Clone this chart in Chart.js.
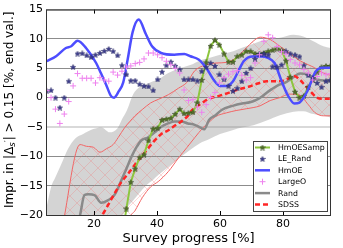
<!DOCTYPE html>
<html><head><meta charset="utf-8">
<script src="https://cdn.jsdelivr.net/npm/chart.js@4/dist/chart.umd.min.js"></script>
<style>html,body{margin:0;padding:0;background:#fff;overflow:hidden}#wrap{width:343px;height:248px}</style>
</head><body><div id="wrap"><canvas id="c" width="343" height="248"></canvas></div>
<script>
// ---------------- data ----------------
const progress = [5.0,6.4,7.8,9.2,10.6,12.0,13.4,14.8,16.3,17.7,19.1,20.5,21.9,23.3,24.7,26.1,27.5,28.9,30.3,31.7,33.1,34.5,35.9,37.3,38.8,40.2,41.6,43.0,44.4,45.8,47.2,48.6,50.0,51.4,52.8,54.2,55.6,57.0,58.4,59.8,61.3,62.7,64.1,65.5,66.9,68.3,69.7,71.1,72.5,73.9,75.3,76.7,78.1,79.5,80.9,82.3,83.8,85.2,86.6,88.0,89.4,90.8,92.2,93.6,95.0];
const leRand = [1.1,1.25,0.0,-1.7,0.0,2.8,5.2,7.5,7.55,7.2,6.9,7.3,7.6,7.95,8.3,7.9,7.2,
  5.5,3.95,2.9,2.9,2.3,2.0,1.9,1.25,3.1,4.4,5.5,6.1,5.4,4.8,3.1,3.1,3.1,2.9,
  4.5,5.2,5.9,5.4,3.95,3.1,2.0,1.15,1.6,2.8,4.2,5.0,6.6,7.4,7.5,7.3,5.3,5.2,5.6,7.9,7.5,7.3,7.0,5.5,3.8,3.3,2.5,1.8,2.8,3.0];
const largeO = [1.2,0.0,-1.96,-4.4,-2.8,-0.67,2.0,4.1,3.3,3.3,3.3,2.5,3.4,3.0,2.8,4.35,3.84,
  4.5,5.2,5.4,5.8,6.0,6.6,7.6,7.6,7.3,6.8,6.2,5.6,5.0,4.2,1.3,-0.5,-0.3,-1.6,
  -2.5,-1.2,0.0,0.85,2.5,3.4,4.0,4.4,4.6,3.8,3.0,3.4,5.9,7.3,9.6,10.7,10.2,8.7,7.8,7.4,6.5,5.9,5.6,4.8,4.2,3.0,3.6,4.2,3.9,4.1];
const hmoeSamp = [null,null,null,null,null,null,null,null,null,null,null,null,null,null,null,null,null,
  -24,-18.9,-14.4,-12.1,-10.2,-9.7,-7.3,-5.3,-5.2,-3.8,-3.65,-3.5,-2.8,-1.96,-2.7,-2.6,-2.5,-0.85,
  3.0,6.0,8.8,9.8,9.0,7.5,6.1,6.1,7.05,7.3,7.9,7.9,7.5,7.4,7.6,7.9,8.1,8.35,8.1,6.3,3.5,1.0,0.0,0.3,1.8,3.0,4.3,5.2,5.4,5.4];

const hmoeX = [5.0,8.0,11.1,12.8,14.8,17.5,20.7,22.2,23.8,25.4,26.4,27.9,29.3,30.7,32.3,34.2,36.5,38.5,41.3,45.5,48.7,50.6,53.2,55.6,57.9,60.0,62.0,64.0,65.8,67.5,70.3,73.2,75.0,77.3,79.4,81.5,83.6,85.2,87.6,90.3,92.4,95.0];
const hmoeY = [6.2,7.05,8.45,8.75,9.7,8.45,5.9,4.2,2.3,0.3,0.0,1.1,2.6,6.5,11.2,13.3,10.8,8.7,7.6,7.3,7.45,7.05,6.5,5.1,3.1,2.0,2.0,2.7,4.5,6.2,7.0,7.0,6.8,5.9,3.0,0.4,-1.0,-0.85,1.0,4.4,5.1,5.1];

const randX = [14.8,15.6,17.0,18.2,20.2,22.3,24.4,26.5,28.7,30.3,31.9,33.5,35.0,37.1,39.3,41.4,43.5,45.6,47.7,49.8,51.2,53.8,55.0,56.5,58.6,60.5,64.0,67.0,69.5,71.5,73.3,74.8,76.3,78.8,80.5,83.3,85.4,87.5,90.7,95.0];
const randY = [-21.5,-20,-16.6,-16.45,-16.6,-17.9,-17.5,-16.6,-14.1,-12.1,-10.1,-8.45,-7.3,-6.8,-5.9,-4.95,-4.4,-4.05,-4.05,-4.4,-4.5,-5.1,-5.4,-3.8,-3.0,-2.1,-1.4,-1.0,-0.8,-0.4,0.2,0.85,1.4,2.2,2.5,3.5,4.1,4.0,3.1,2.8];

const sdssX = [21.5,23.0,26.6,28.7,30.8,32.9,35.0,37.1,39.3,41.4,43.5,45.6,47.7,49.8,51.2,53.8,56.4,59.7,62.9,66.0,69.3,72.0,74.8,77.5,80.3,83.5,85.4,86.8,88.6,90.7,92.5,95.0];
const sdssY = [-21,-19.7,-16.3,-14.4,-13.0,-11.5,-10.1,-8.7,-7.3,-6.2,-5.6,-4.8,-4.05,-3.1,-2.1,-1.1,-0.2,0.3,0.85,1.4,1.9,2.4,2.8,2.8,2.9,3.7,3.0,2.2,1.1,0.0,-0.2,-0.2];

const randBandX = [5.0,6.5,7.6,9.6,11.8,14.0,16.6,19.8,22.4,25.0,27.5,28.8,30.4,32.5,34.5,36.5,38.8,40.4,43.6,47.8,50.8,53.5,56.8,60.0,64.2,67.0,70.6,74.8,79.0,83.3,86.4,89.6,92.8,95.0];
const randBandHi = [-18.6,-15.1,-13.8,-11.4,-8.7,-7.0,-6.2,-5.35,-5.07,-5.9,-5.2,-3.8,-2.25,0.6,1.8,2.3,2.8,3.1,4.2,5.1,5.6,6.3,6.8,7.3,7.9,8.5,9.2,9.9,10.2,10.7,10.4,9.6,8.75,8.45];
const randBandLo = [-22,-22,-22,-22,-22,-22,-22,-22,-22,-22,-22,-20.5,-18.9,-17.5,-16.2,-15.0,-14.0,-13.2,-11.8,-10.0,-8.8,-7.8,-7.0,-6.2,-5.5,-5.1,-4.7,-3.9,-3.0,-2.4,-2.3,-2.8,-3.1,-3.4];

const sdssBandX = [10.0,15.6,17.7,19.8,21.9,24.0,26.1,27.7,29.8,31.5,33.0,35.4,38.0,40.4,43.6,46.8,49.5,52.0,54.5,56.5,58.7,62.0,65.1,68.3,70.5,72.7,75.9,79.0,82.0,85.0,88.0,90.0,92.8,95.0];
const sdssBandHi = [-22,-8.0,-8.3,-8.45,-9.3,-8.7,-8.0,-6.8,-5.07,-4.0,-3.1,-2.0,-0.9,-0.3,0.5,1.6,2.6,4.6,5.4,5.7,5.9,6.0,6.8,8.45,9.6,10.3,9.9,8.75,7.6,6.4,5.6,5.1,4.2,3.8];
const sdssBandLo = [-26,-26,-26,-26,-26,-26,-26,-26,-26,-20.5,-19.3,-17.0,-15.2,-14.3,-12.6,-10.3,-8.5,-6.8,-5.2,-4.2,-3.2,-2.6,-2.2,-1.9,-1.7,-1.4,-0.5,0.0,0.6,0.5,-1.2,-2.5,-3.1,-3.1];

const xTicks = [20,40,60,80];
const yTicks = [15,10,5,0,-5,-10,-15,-20];
const legendLabels = ['HmOESamp','LE_Rand','HmOE','LargeO','Rand','SDSS'];
const xTitle = 'Survey progress [%]';

// ---------------- styling helpers ----------------
Chart.defaults.font.family = '"DejaVu Sans", sans-serif';
Chart.defaults.color = '#000';

function starImg(size, fill, stroke){
  const c = document.createElement('canvas'); c.width = c.height = size;
  const g = c.getContext('2d'); const cx = size/2, cy = size/2 + 0.3;
  const r = size/2 - 0.2, r2 = r*0.45;
  g.beginPath();
  for(let k=0;k<10;k++){const a=-Math.PI/2+k*Math.PI/5;const rr=k%2?r2:r;const px=cx+rr*Math.cos(a),py=cy+rr*Math.sin(a);k?g.lineTo(px,py):g.moveTo(px,py);}
  g.closePath(); g.fillStyle=fill; g.fill(); g.strokeStyle=stroke; g.lineWidth=0.5; g.stroke();
  return c;
}
function hatch(){
  const s = 14; const c = document.createElement('canvas'); c.width = c.height = s;
  const g = c.getContext('2d');
  g.strokeStyle = 'rgba(240,120,120,0.42)'; g.lineWidth = 0.7;
  g.beginPath(); g.moveTo(0,0); g.lineTo(s,s); g.moveTo(s,0); g.lineTo(0,s); g.stroke();
  return document.getElementById('c').getContext('2d').createPattern(c,'repeat');
}
const starLE = starImg(6, '#3b3b8e', '#23235e');
const starG = starImg(6, '#55702e', '#2b3a17');
const pts = (xs, ys) => xs.map((x,i)=>({x:x, y:ys[i]})).filter(p=>p.y!==null);
const mono = {cubicInterpolationMode:'monotone', pointRadius:0, clip:0};

const datasets = [
  {label:'LargeO', data:pts(progress,largeO), showLine:false, pointStyle:'cross', pointRadius:3, pointBorderWidth:1, borderColor:'#ee82ee', backgroundColor:'#ee82ee', clip:0},
  {label:'LE_Rand', data:pts(progress,leRand), showLine:false, pointStyle:starLE, pointRadius:3, borderColor:'#3b3b8e', backgroundColor:'#3b3b8e', clip:0},
  Object.assign({label:'HmOE', data:pts(hmoeX,hmoeY), borderColor:'#4d4dff', borderWidth:2.5, fill:false}, mono),
  {label:'HmOESamp', data:pts(progress,hmoeSamp), borderColor:'#8dc63f', borderWidth:2, pointStyle:starG, pointRadius:3, fill:false, clip:0},
  Object.assign({label:'SDSS', data:pts(sdssX,sdssY), borderColor:'#ff2626', borderWidth:2.5, borderDash:[5,3], fill:false}, mono),
  Object.assign({label:'Rand', data:pts(randX,randY), borderColor:'#8a8a8a', borderWidth:2.5, fill:false}, mono),
  Object.assign({label:'sdssHi', data:pts(sdssBandX,sdssBandHi), borderColor:'#f26666', borderWidth:1, fill:7, backgroundColor:hatch()}, mono),
  Object.assign({label:'sdssLo', data:pts(sdssBandX,sdssBandLo), borderColor:'#f26666', borderWidth:1, fill:false}, mono),
  Object.assign({label:'randHi', data:pts(randBandX,randBandHi), borderColor:'rgba(0,0,0,0)', borderWidth:0, fill:9, backgroundColor:'rgba(135,135,135,0.36)'}, mono),
  Object.assign({label:'randLo', data:pts(randBandX,randBandLo), borderColor:'rgba(0,0,0,0)', borderWidth:0, fill:false}, mono)
];

const legendMap = {HmOESamp:3, LE_Rand:1, HmOE:2, LargeO:0, Rand:5, SDSS:4};

const framePlugin = {
  id:'frame',
  afterDatasetsDraw(chart){
    const c = chart.ctx, a = chart.chartArea;
    c.save();
    const xs = chart.scales.x;
    c.strokeStyle = '#000'; c.lineWidth = 1;
    xTicks.forEach(v=>{const px=Math.round(xs.getPixelForValue(v))+0.5;
      c.beginPath(); c.moveTo(px,a.bottom); c.lineTo(px,a.bottom-4); c.moveTo(px,a.top); c.lineTo(px,a.top+4); c.stroke();});
    c.strokeStyle = '#333'; c.lineWidth = 1;
    c.strokeRect(a.left+0.5, a.top+0.5, a.right-a.left-1, a.bottom-a.top);
    // legend
    const bw = 74, bh = 70, bx = a.right - 78, by = a.bottom - 74;
    c.fillStyle = '#fff'; c.fillRect(bx,by,bw,bh);
    c.strokeStyle = '#444'; c.strokeRect(bx+0.5,by+0.5,bw,bh);
    c.font = '7.8px "DejaVu Sans"'; c.textBaseline = 'middle'; c.textAlign = 'left';
    legendLabels.forEach((lab,i)=>{
      const ds = chart.data.datasets[legendMap[lab]];
      const y = by + 6.5 + i*11.4, x1 = bx + 2, x2 = bx + 17, xm = (x1+x2)/2;
      if (ds.showLine !== false){
        c.save(); c.strokeStyle = ds.borderColor; c.lineWidth = ds.borderWidth;
        c.setLineDash(ds.borderDash || []); c.beginPath(); c.moveTo(x1,y); c.lineTo(x2,y); c.stroke(); c.restore();
      }
      if (ds.pointStyle && typeof ds.pointStyle === 'object'){
        c.drawImage(ds.pointStyle, xm - ds.pointStyle.width/2, y - ds.pointStyle.height/2);
      } else if (ds.pointStyle === 'cross'){
        c.save(); c.strokeStyle = ds.borderColor; c.lineWidth = 1; c.beginPath();
        c.moveTo(xm-3,y); c.lineTo(xm+3,y); c.moveTo(xm,y-3); c.lineTo(xm,y+3); c.stroke(); c.restore();
      }
      c.fillStyle = '#000'; c.fillText(lab, bx + 25, y + 0.5);
    });
    // y axis title with math subscript
    const segs = [
      {t:'Impr. in |\u0394', f:'12px "DejaVu Sans"', dy:0},
      {t:'s', f:'italic 8.5px "DejaVu Sans"', dy:2.6},
      {t:'\u2032', f:'8.5px "DejaVu Sans"', dy:-1.5},
      {t:'| > 0.15 [%, end val.]', f:'12px "DejaVu Sans"', dy:0}
    ];
    let w = 0; segs.forEach(s=>{c.font=s.f; s.w=c.measureText(s.t).width; w+=s.w;});
    c.translate(12.7, (a.top+a.bottom)/2 - 2.5); c.rotate(-Math.PI/2);
    c.textBaseline = 'alphabetic'; c.fillStyle = '#000';
    let x = -w/2; segs.forEach(s=>{c.font=s.f; c.fillText(s.t, x, s.dy); x += s.w;});
    c.restore();
  }
};

new Chart(document.getElementById('c'), {
  type:'line',
  data:{datasets:datasets},
  options:{
    responsive:false, animation:false, devicePixelRatio:1, events:[],
    layout:{padding:{left:0,right:12,top:8,bottom:0}},
    plugins:{legend:{display:false}, tooltip:{enabled:false}, title:{display:false}},
    elements:{line:{tension:0}},
    scales:{
      x:{type:'linear', min:4.8, max:95.2,
        afterBuildTicks:s=>{s.ticks = xTicks.map(v=>({value:v}));},
        afterFit:s=>{s.height = 33;},
        grid:{display:false, drawTicks:false}, border:{display:false},
        ticks:{font:{size:11}, color:'#000', padding:3, maxRotation:0, autoSkip:false},
        title:{display:true, text:xTitle, font:{size:13}, color:'#000', padding:{top:0,bottom:2}}
      },
      y:{type:'linear', min:-20, max:15,
        afterBuildTicks:s=>{s.ticks = yTicks.map(v=>({value:v}));},
        afterFit:s=>{s.width = 46;},
        grid:{drawTicks:false, color:c=>c.tick && c.tick.value===-5 ? '#d9d9d9' : '#8c8c8c', lineWidth:c=>c.tick && c.tick.value===-5 ? 2 : 1},
        border:{display:false},
        ticks:{font:{size:11}, color:'#000', padding:3, autoSkip:false,
          callback:v=> v<0 ? '\u2212'+Math.abs(v) : String(v)}
      }
    }
  },
  plugins:[framePlugin]
});
</script>
</body></html>
